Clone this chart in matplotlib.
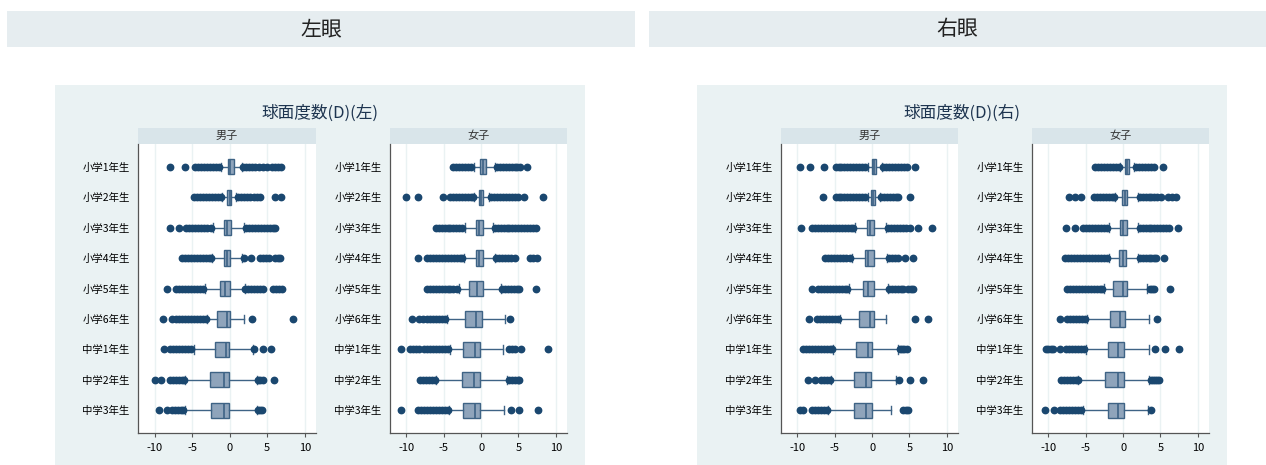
import matplotlib
matplotlib.use("Agg")
import matplotlib.pyplot as plt

plt.rcParams['font.family'] = ['Noto Sans CJK JP', 'DejaVu Sans']

W, H = 1266, 465

grades = ["小学1年生", "小学2年生", "小学3年生", "小学4年生", "小学5年生",
          "小学6年生", "中学1年生", "中学2年生", "中学3年生"]
xticks = [-10, -5, 0, 5, 10]

# 箱ひげ: (下ひげ, 第1四分位, 中央値, 第3四分位, 上ひげ)
left_boy_box = [(-1.1, -0.2, 0.1, 0.6, 1.6), (-1.0, -0.3, 0.0, 0.2, 0.9),
                (-2.2, -0.8, -0.3, 0.2, 1.9), (-2.3, -0.8, -0.35, 0.1, 1.6),
                (-3.3, -1.3, -0.6, 0.1, 2.0), (-3.0, -1.7, -0.3, 0.1, 1.9),
                (-4.8, -1.9, -0.5, -0.1, 3.1), (-6.0, -2.6, -0.7, -0.1, 3.6),
                (-6.0, -2.5, -0.75, -0.1, 3.6)]
left_boy_out = [
    [-7.9, -6.0, -4.6, -4.2, -3.8, -3.4, -3.0, -2.6, -2.2, -1.8, -1.4, 1.8, 2.2, 2.6, 3.0, 3.4, 3.9, 4.5, 5.0, 5.6, 6.1, 6.5, 6.9],
    [-4.7, -4.3, -3.9, -3.5, -3.1, -2.7, -2.3, -1.9, -1.5, -1.2, 1.1, 1.5, 1.9, 2.3, 2.7, 3.3, 3.7, 4.0, 6.1, 6.9],
    [-8.0, -6.7, -5.8, -5.4, -5.0, -4.6, -4.2, -3.8, -3.4, -3.0, -2.5, 2.2, 2.6, 3.0, 3.4, 3.8, 4.2, 4.6, 5.0, 5.4, 5.8, 6.0],
    [-6.4, -6.0, -5.6, -5.2, -4.8, -4.4, -4.0, -3.6, -3.2, -2.8, -2.5, 1.9, 2.9, 4.0, 4.4, 4.8, 5.3, 6.0, 6.4, 6.7],
    [-8.3, -7.2, -6.8, -6.4, -6.0, -5.6, -5.2, -4.8, -4.4, -4.0, -3.6, 2.1, 2.5, 2.9, 3.3, 3.7, 4.1, 4.5, 5.8, 6.2, 6.6, 7.0],
    [-8.9, -7.7, -7.1, -6.7, -6.3, -5.9, -5.5, -5.1, -4.7, -4.3, -3.9, -3.5, -3.2, 3.0, 8.4],
    [-8.75, -7.9, -7.5, -7.1, -6.7, -6.3, -5.9, -5.5, -5.1, 3.2, 4.4, 5.5],
    [-10.0, -9.2, -8.0, -7.6, -7.2, -6.8, -6.4, -6.1, 3.8, 4.1, 4.4, 5.9],
    [-9.4, -8.3, -7.7, -7.3, -6.9, -6.5, -6.2, 3.8, 4.1, 4.3],
]

left_girl_box = [(-1.0, -0.1, 0.3, 0.7, 1.9), (-0.9, -0.3, 0.0, 0.3, 1.1),
                 (-2.2, -0.7, -0.3, 0.3, 1.6), (-2.3, -0.7, -0.3, 0.3, 1.9),
                 (-2.9, -1.6, -0.6, 0.2, 2.6), (-4.6, -2.2, -0.7, 0.1, 3.2),
                 (-4.2, -2.4, -0.8, -0.1, 2.9), (-6.0, -2.5, -0.9, -0.1, 3.5),
                 (-4.3, -2.4, -0.8, -0.1, 3.1)]
left_girl_out = [
    [-3.8, -3.4, -3.0, -2.6, -2.2, -1.8, -1.4, 2.1, 2.5, 2.9, 3.3, 3.7, 4.1, 4.5, 4.8, 5.2, 6.1],
    [-10.1, -8.5, -5.1, -4.2, -3.8, -3.4, -3.0, -2.6, -2.2, -1.8, -1.4, -1.1, 1.3, 1.7, 2.1, 2.5, 2.9, 3.3, 3.7, 4.1, 4.5, 4.9, 5.8, 8.3],
    [-6.1, -5.7, -5.3, -4.9, -4.5, -4.1, -3.7, -3.3, -2.9, -2.5, 1.8, 2.2, 2.6, 3.0, 3.4, 3.8, 4.2, 4.6, 5.0, 5.4, 5.8, 6.2, 6.6, 7.0, 7.4],
    [-8.4, -7.2, -6.8, -6.4, -6.0, -5.6, -5.2, -4.8, -4.4, -4.0, -3.6, -3.2, -2.8, -2.5, 2.0, 2.4, 2.8, 3.2, 3.6, 4.0, 4.5, 6.6, 7.0, 7.5],
    [-7.3, -6.9, -6.5, -6.1, -5.7, -5.3, -4.9, -4.5, -4.1, -3.7, -3.2, 2.8, 3.2, 3.6, 4.0, 4.4, 4.8, 5.1, 7.3],
    [-9.2, -8.3, -7.8, -7.3, -6.9, -6.5, -6.1, -5.7, -5.3, -4.9, 3.9],
    [-10.7, -9.5, -9.1, -8.7, -8.3, -7.6, -7.2, -6.8, -6.4, -6.0, -5.6, -5.2, -4.8, -4.4, 3.7, 4.1, 4.5, 5.3, 9.0],
    [-8.2, -7.8, -7.4, -7.0, -6.6, -6.2, 3.7, 4.1, 4.5, 4.9, 5.1],
    [-10.7, -8.4, -8.0, -7.6, -7.2, -6.8, -6.4, -6.0, -5.6, -5.2, -4.8, -4.4, 4.0, 5.1, 7.6],
]

right_boy_box = [(-0.6, 0.0, 0.2, 0.5, 1.3), (-0.6, -0.1, 0.1, 0.4, 1.0),
                 (-2.3, -0.7, -0.3, 0.3, 1.9), (-2.7, -1.0, -0.5, 0.3, 2.0),
                 (-3.1, -1.2, -0.5, 0.2, 2.1), (-4.3, -1.7, -0.3, 0.2, 1.8),
                 (-5.3, -2.1, -0.6, 0.0, 3.5), (-5.5, -2.4, -0.8, -0.1, 3.2),
                 (-5.9, -2.4, -0.8, 0.0, 2.5)]
right_boy_out = [
    [-9.7, -8.3, -6.5, -4.9, -4.5, -4.1, -3.7, -3.3, -2.9, -2.5, -2.1, -1.7, -1.3, -0.9, 1.5, 1.9, 2.3, 2.7, 3.1, 3.5, 3.9, 4.3, 4.7, 5.8],
    [-6.6, -4.9, -4.5, -4.1, -3.7, -3.3, -2.9, -2.5, -2.1, -1.7, -1.3, -0.9, 1.2, 1.6, 2.0, 2.4, 2.8, 3.2, 3.5, 5.1],
    [-9.5, -8.0, -7.6, -7.2, -6.8, -6.4, -6.0, -5.6, -5.2, -4.8, -4.4, -4.0, -3.6, -3.2, -2.8, -2.5, 2.1, 2.5, 2.9, 3.3, 3.7, 4.1, 4.5, 5.1, 6.1, 8.0],
    [-6.3, -5.9, -5.5, -5.1, -4.7, -4.3, -3.9, -3.5, -3.0, 2.2, 2.6, 3.0, 3.5, 4.4, 5.5],
    [-8.0, -7.2, -6.8, -6.4, -6.0, -5.6, -5.2, -4.8, -4.4, -4.0, -3.6, -3.3, 2.3, 2.7, 3.1, 3.5, 3.9, 4.2, 4.8, 5.2, 5.5],
    [-8.5, -7.4, -7.0, -6.6, -6.2, -5.8, -5.4, -5.0, -4.6, 5.7, 7.5],
    [-9.3, -8.9, -8.5, -8.1, -7.7, -7.3, -6.9, -6.5, -6.1, -5.7, -5.4, 3.7, 4.0, 4.3, 4.7],
    [-8.6, -7.6, -6.9, -6.5, -6.1, -5.7, 3.6, 5.1, 6.8],
    [-9.7, -9.3, -8.1, -7.7, -7.3, -6.9, -6.5, -6.1, 4.2, 4.5, 4.8],
]

right_girl_box = [(-0.4, 0.3, 0.5, 0.8, 1.5), (-1.1, -0.1, 0.2, 0.5, 2.0),
                  (-1.9, -0.4, 0.0, 0.5, 2.0), (-1.9, -0.6, 0.0, 0.4, 2.0),
                  (-2.6, -1.3, 0.0, 0.5, 3.2), (-4.8, -1.8, -0.4, 0.3, 3.5),
                  (-5.0, -2.0, -0.7, 0.1, 3.5), (-6.0, -2.4, -0.7, 0.1, 3.5),
                  (-5.4, -2.0, -0.7, 0.1, 3.3)]
right_girl_out = [
    [-3.8, -3.4, -3.0, -2.6, -2.2, -1.8, -1.4, -1.0, -0.6, 1.7, 2.1, 2.5, 2.9, 3.3, 3.7, 4.1, 5.3],
    [-7.3, -6.5, -5.6, -3.9, -3.5, -3.1, -2.7, -2.3, -1.9, -1.5, -1.2, 2.2, 2.6, 3.0, 3.4, 3.8, 4.2, 4.6, 5.1, 6.0, 6.5, 7.1],
    [-7.7, -6.4, -5.4, -5.0, -4.6, -4.2, -3.8, -3.4, -3.0, -2.6, -2.2, 2.2, 2.6, 3.0, 3.4, 3.8, 4.2, 4.6, 5.0, 5.4, 5.8, 6.2, 7.3],
    [-7.8, -7.4, -7.0, -6.6, -6.2, -5.8, -5.4, -5.0, -4.6, -4.2, -3.8, -3.4, -3.0, -2.6, -2.2, 2.2, 2.6, 3.0, 3.4, 3.8, 4.1, 4.4, 5.5],
    [-7.5, -7.1, -6.7, -6.3, -5.9, -5.5, -5.1, -4.7, -4.3, -3.9, -3.5, -3.1, -2.8, 3.6, 3.9, 4.2, 6.3],
    [-8.5, -7.5, -7.1, -6.7, -6.3, -5.9, -5.5, -5.1, 4.6],
    [-10.3, -10.0, -9.7, -9.4, -8.4, -7.6, -7.2, -6.8, -6.4, -6.0, -5.6, -5.2, 4.3, 5.6, 7.5],
    [-8.3, -7.9, -7.5, -7.1, -6.7, -6.3, -6.1, 3.7, 4.0, 4.3, 4.6, 4.8],
    [-10.5, -9.2, -8.5, -8.1, -7.7, -7.3, -6.9, -6.5, -6.1, -5.7, 3.8],
]

NAVY = "#1a476f"
BOXFACE = "#8fa4bb"
BOXEDGE = "#3e6385"
BG = "#eaf2f3"
STRIP = "#d9e5ea"
HEAD = "#e6edf0"


def px_axes(fig, x0, y0, x1, y1, **kw):
    # ピクセル座標(左上原点)から軸を作る
    return fig.add_axes([x0 / W, 1 - y1 / H, (x1 - x0) / W, (y1 - y0) / H], **kw)


def draw_box(ax, boxes, outs):
    stats = []
    for b, o in zip(boxes, outs):
        stats.append(dict(whislo=b[0], q1=b[1], med=b[2], q3=b[3], whishi=b[4], fliers=o))
    ax.bxp(stats, positions=range(1, len(stats) + 1), orientation='horizontal',
           widths=0.5, capwidths=0.28, patch_artist=True,
           boxprops=dict(facecolor=BOXFACE, edgecolor=BOXEDGE, linewidth=1.0),
           medianprops=dict(color=BOXEDGE, linewidth=1.2),
           whiskerprops=dict(color=BOXEDGE, linewidth=1.0),
           capprops=dict(color=BOXEDGE, linewidth=1.0),
           flierprops=dict(marker='o', markerfacecolor=NAVY, markeredgecolor=NAVY,
                           markersize=4.6, linestyle='none'))
    ax.set_xlim(-12.2, 11.5)
    ax.set_ylim(9.75, 0.25)
    ax.set_xticks(xticks)
    ax.set_xticklabels([str(t) for t in xticks], fontsize=8)
    ax.set_yticks(range(1, 10))
    ax.set_yticklabels(grades, fontsize=7.5)
    ax.tick_params(axis='y', length=0, pad=6)
    ax.tick_params(axis='x', length=3, color="#555555", pad=4)
    ax.set_facecolor("white")
    ax.grid(axis='x', color=BG, linewidth=1.0)
    ax.set_axisbelow(True)
    for s in ['top', 'right']:
        ax.spines[s].set_visible(False)
    for s in ['left', 'bottom']:
        ax.spines[s].set_color("#555555")
        ax.spines[s].set_linewidth(0.9)


def draw_strip(fig, x0, x1, label):
    sa = px_axes(fig, x0, 128, x1, 144)
    sa.set_facecolor(STRIP)
    sa.set_xticks([])
    sa.set_yticks([])
    for s in sa.spines.values():
        s.set_visible(False)
    sa.text(0.5, 0.5, label, ha='center', va='center', fontsize=8, color="#333333",
            transform=sa.transAxes)


fig = plt.figure(figsize=(W / 100, H / 100), dpi=100)
fig.patch.set_facecolor("white")

panels = [
    ("左眼", "球面度数(D)(左)", 7, 635, 55, 585, (138, 316, 390, 567),
     left_boy_box, left_boy_out, left_girl_box, left_girl_out),
    ("右眼", "球面度数(D)(右)", 649, 1266, 697, 1227, (781, 958, 1032, 1209),
     right_boy_box, right_boy_out, right_girl_box, right_girl_out),
]

for head, title, hx0, hx1, px0, px1, sx, bb, bo, gb, go in panels:
    ha = px_axes(fig, hx0, 11, hx1, 47)
    ha.set_facecolor(HEAD)
    ha.set_xticks([])
    ha.set_yticks([])
    for s in ha.spines.values():
        s.set_visible(False)
    ha.text(0.5, 0.5, head, ha='center', va='center', fontsize=15, color="#222222",
            transform=ha.transAxes)

    pa = px_axes(fig, px0, 85, px1, 465)
    pa.set_facecolor(BG)
    pa.set_xticks([])
    pa.set_yticks([])
    for s in pa.spines.values():
        s.set_visible(False)
    fig.text(((px0 + px1) / 2) / W, 1 - 113 / H, title, ha='center', va='center',
             fontsize=12, color="#1e3550")

    draw_strip(fig, sx[0], sx[1], "男子")
    draw_strip(fig, sx[2], sx[3], "女子")
    ax1 = px_axes(fig, sx[0], 144, sx[1], 433)
    draw_box(ax1, bb, bo)
    ax2 = px_axes(fig, sx[2], 144, sx[3], 433)
    draw_box(ax2, gb, go)

fig.savefig("out.png", dpi=100, facecolor=fig.get_facecolor())
